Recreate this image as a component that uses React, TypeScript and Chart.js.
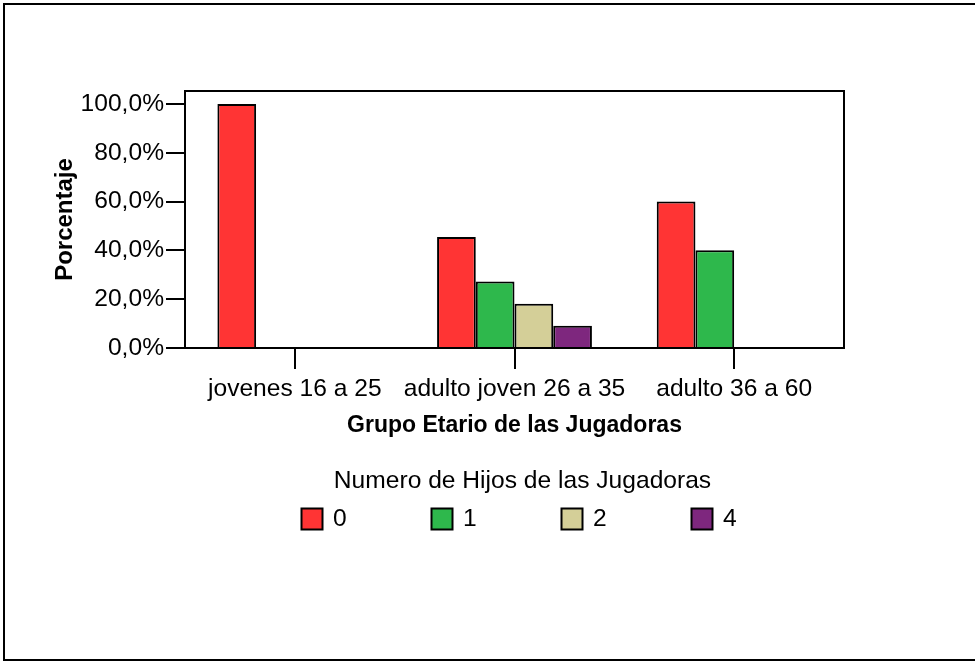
import React, { useEffect, useRef } from "react";
import { Chart, registerables } from "chart.js";

Chart.register(...registerables);

const categories = ["jovenes 16 a 25", "adulto joven 26 a 35", "adulto 36 a 60"];
const seriesLabels = ["0", "1", "2", "4"];
const hijos0 = [100, 45.45, 60];
const hijos1 = [0, 27.27, 40];
const hijos2 = [0, 18.18, 0];
const hijos4 = [0, 9.09, 0];
const seriesColors = ["#ff3434", "#2eb84c", "#d4cf98", "#7e277e"];
const yTickValues = [0, 20, 40, 60, 80, 100];
const yMax = 105.3;
const xTitle = "Grupo Etario de las Jugadoras";
const yTitle = "Porcentaje";
const legendTitle = "Numero de Hijos de las Jugadoras";

const FONT = "'Liberation Sans', Arial, Helvetica, sans-serif";

const outerBorderPlugin = {
  id: "outerBorder",
  beforeDraw(chart: any) {
    const { ctx, width, height } = chart;
    ctx.save();
    ctx.fillStyle = "#fff";
    ctx.fillRect(0, 0, width, height);
    ctx.strokeStyle = "#000";
    ctx.lineWidth = 2;
    ctx.beginPath();
    ctx.moveTo(width + 2, 4);
    ctx.lineTo(4, 4);
    ctx.lineTo(4, 660);
    ctx.lineTo(width + 2, 660);
    ctx.stroke();
    ctx.restore();
  },
};

const framePlugin = {
  id: "frame",
  afterDatasetsDraw(chart: any) {
    const { ctx, chartArea } = chart;
    ctx.save();
    ctx.strokeStyle = "#000";
    ctx.lineWidth = 2;
    ctx.strokeRect(chartArea.left, chartArea.top, chartArea.right - chartArea.left, chartArea.bottom - chartArea.top);
    ctx.restore();
  },
};

const legendPlugin = {
  id: "customLegend",
  afterDraw(chart: any) {
    const { ctx, chartArea } = chart;
    const cx = (chartArea.left + chartArea.right) / 2;
    ctx.save();
    ctx.fillStyle = "#000";
    ctx.font = `24.6px ${FONT}`;
    ctx.textAlign = "center";
    ctx.textBaseline = "middle";
    ctx.fillText(legendTitle, cx + 8, 481);
    const startX = cx - 213;
    chart.data.datasets.forEach((ds: any, i: number) => {
      const x = startX + i * 130;
      const y = 508.5;
      ctx.fillStyle = ds.backgroundColor;
      ctx.fillRect(x, y, 21, 21);
      ctx.strokeStyle = "#000";
      ctx.lineWidth = 2;
      ctx.strokeRect(x, y, 21, 21);
      ctx.fillStyle = "#000";
      ctx.textAlign = "left";
      ctx.fillText(ds.label, x + 31.5, y + 11);
    });
    ctx.restore();
  },
};

export default function App() {
  const ref = useRef<HTMLCanvasElement | null>(null);

  useEffect(() => {
    if (!ref.current) return;
    const seriesData = [hijos0, hijos1, hijos2, hijos4];
    const chart = new Chart(ref.current, {
      type: "bar",
      data: {
        labels: categories,
        datasets: seriesLabels.map((label, i) => ({
          label,
          data: seriesData[i],
          backgroundColor: seriesColors[i],
          borderColor: "#000",
          borderWidth: 2,
          borderSkipped: "start",
          categoryPercentage: 0.705,
          barPercentage: 1,
        })),
      },
      options: {
        animation: false,
        responsive: false,
        devicePixelRatio: 1,
        layout: { padding: { top: 91, left: 51, right: 131, bottom: 223 } },
        plugins: {
          legend: { display: false },
          tooltip: { enabled: false },
        },
        scales: {
          x: {
            afterFit(scale: any) {
              scale.height = 91;
            },
            grid: {
              offset: false,
              drawOnChartArea: false,
              color: "#000",
              lineWidth: 2,
              tickLength: 21,
            },
            border: { display: true, color: "#000", width: 2 },
            ticks: {
              color: "#000",
              font: { family: FONT, size: 24.6 },
              padding: 5,
              maxRotation: 0,
              autoSkip: false,
            },
            title: {
              display: true,
              text: xTitle,
              color: "#000",
              font: { family: FONT, size: 23, weight: "bold" },
              padding: 0,
            },
          },
          y: {
            min: 0,
            max: yMax,
            afterFit(scale: any) {
              scale.width = 134;
            },
            afterBuildTicks(scale: any) {
              scale.ticks = yTickValues.map((v) => ({ value: v }));
            },
            grid: {
              drawOnChartArea: false,
              color: "#000",
              lineWidth: 2,
              tickLength: 19,
            },
            border: { display: true, color: "#000", width: 2 },
            ticks: {
              color: "#000",
              font: { family: FONT, size: 24.6 },
              padding: 2,
              callback: (v: any) => Number(v).toFixed(1).replace(".", ",") + "%",
            },
            title: {
              display: true,
              text: yTitle,
              color: "#000",
              font: { family: FONT, size: 24, weight: "bold" },
              padding: 0,
            },
          },
        },
      } as any,
      plugins: [outerBorderPlugin, framePlugin, legendPlugin],
    });
    return () => chart.destroy();
  }, []);

  return (
    <div style={{ position: "fixed", left: 0, top: 0, width: 975, height: 662, background: "#fff", overflow: "hidden" }}>
      <canvas ref={ref} width={975} height={662} style={{ position: "absolute", left: 0, top: 0, width: 975, height: 662 }} />
    </div>
  );
}
